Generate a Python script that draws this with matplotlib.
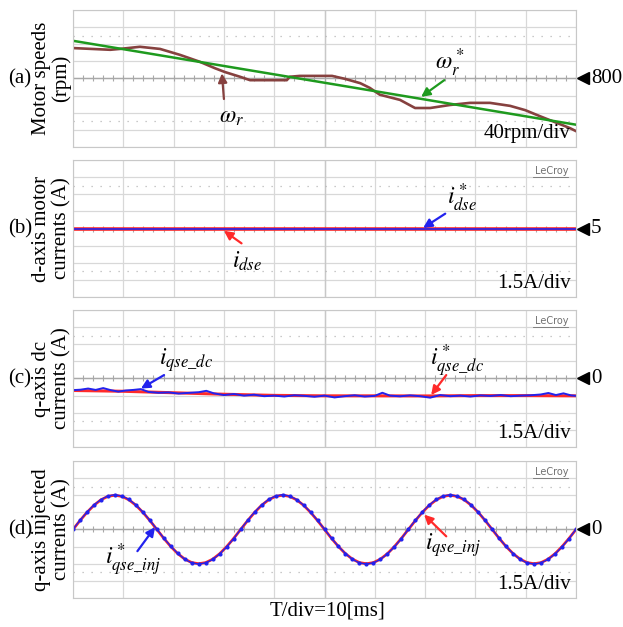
import numpy as np
import matplotlib.pyplot as plt

plt.rcParams['font.family'] = ['Liberation Serif', 'DejaVu Sans']
plt.rcParams['mathtext.fontset'] = 'stix'

# ---- (a) motor speed, rpm (time in ms, 10 ms/div) ----
t_speed = [0, 7.4, 9.3, 13.3, 17.3, 21.3, 25.2, 28.2, 30.2, 33.2, 35.2, 42.5, 43.1,
           45.1, 49.1, 51.5, 54.1, 57.1, 59.0, 61.0, 65.0, 68.0, 71.0, 74.9, 78.9,
           82.9, 86.9, 89.9, 92.8, 95.8, 98.8, 100]
w_r = [871, 867, 869, 874, 869, 855, 839, 824, 815, 804, 796, 796, 804,
       806, 806, 806, 799, 789, 778, 762, 750, 731, 731, 738, 743,
       743, 736, 726, 712, 698, 684, 677]
t_ref = [0, 100]
w_ref = [888, 692]

# ---- (b) d-axis current, A ----
t_d = [0, 100]
i_dse_ref = [5.0, 5.0]
i_dse = [4.95, 4.95]

# ---- (c) q-axis dc current, A ----
t_qdc = [0, 1.5, 3, 4.5, 6, 7.5, 9, 10.5, 12, 13.5, 15, 17, 19, 21, 23, 25, 26.5, 28,
         30, 32, 34, 36, 38, 40, 42, 44, 46, 48, 50, 52, 54, 56, 58, 60, 61.5, 63,
         65, 67, 69, 71, 73, 75, 77, 79, 81, 83, 85, 87, 89, 91, 93, 94.5, 96,
         97.5, 99, 100]
i_qdc = [-1.02, -0.98, -0.88, -1.00, -0.84, -1.02, -1.15, -1.05, -1.00, -0.93, -1.18,
         -1.25, -1.22, -1.32, -1.26, -1.20, -1.08, -1.30, -1.45, -1.36, -1.50, -1.42,
         -1.55, -1.50, -1.58, -1.47, -1.52, -1.60, -1.50, -1.66, -1.55, -1.47, -1.58,
         -1.52, -1.25, -1.50, -1.56, -1.48, -1.55, -1.68, -1.45, -1.55, -1.50, -1.58,
         -1.48, -1.53, -1.45, -1.55, -1.50, -1.47, -1.40, -1.27, -1.45, -1.30, -1.48,
         -1.52]
t_qdc_ref = [0, 10, 20, 30, 40, 50, 60, 70, 80, 90, 100]
i_qdc_ref = [-1.05, -1.12, -1.25, -1.38, -1.48, -1.52, -1.52, -1.53, -1.50, -1.50, -1.52]

# ---- (d) q-axis injected current, A (73 samples over 100 ms) ----
t_inj = np.linspace(0, 100, 73)
i_inj = [0.00, 0.78, 1.50, 2.12, 2.60, 2.90, 3.00, 2.90, 2.60, 2.12, 1.50, 0.78,
         0.00, -0.78, -1.50, -2.12, -2.60, -2.90, -3.00, -2.90, -2.60, -2.12, -1.50, -0.78,
         0.00, 0.78, 1.50, 2.12, 2.60, 2.90, 3.00, 2.90, 2.60, 2.12, 1.50, 0.78,
         0.00, -0.78, -1.50, -2.12, -2.60, -2.90, -3.00, -2.90, -2.60, -2.12, -1.50, -0.78,
         0.00, 0.78, 1.50, 2.12, 2.60, 2.90, 3.00, 2.90, 2.60, 2.12, 1.50, 0.78,
         0.00, -0.78, -1.50, -2.12, -2.60, -2.90, -3.00, -2.90, -2.60, -2.12, -1.50, -0.78,
         0.00]
i_inj_ref = [0.02, 0.80, 1.52, 2.15, 2.62, 2.94, 3.04, 2.93, 2.63, 2.15, 1.53, 0.80,
             0.03, -0.76, -1.48, -2.10, -2.62, -2.93, -3.03, -2.92, -2.62, -2.14, -1.52, -0.80,
             0.02, 0.80, 1.53, 2.15, 2.63, 2.94, 3.05, 2.93, 2.62, 2.14, 1.52, 0.80,
             0.02, -0.77, -1.49, -2.11, -2.62, -2.93, -3.03, -2.92, -2.62, -2.14, -1.52, -0.80,
             0.02, 0.80, 1.53, 2.15, 2.63, 2.94, 3.04, 2.93, 2.63, 2.14, 1.52, 0.80,
             0.02, -0.77, -1.49, -2.11, -2.62, -2.93, -3.03, -2.92, -2.62, -2.14, -1.52, -0.80,
             0.02]

fig = plt.figure(figsize=(6.23, 6.27), dpi=100)
FS = 15
MS = 17


def scope_axes(bottom, center, per_div):
    ax = fig.add_axes([0.1172, bottom, 0.8074, 0.2185])
    ax.set_xlim(0, 100)
    ax.set_ylim(center - 4 * per_div, center + 4 * per_div)
    ax.set_xticks(np.arange(0, 101, 10))
    ax.set_yticks(center + per_div * np.arange(-4, 5))
    ax.tick_params(length=0, labelbottom=False, labelleft=False)
    ax.grid(True, color='#d8d8d8', lw=0.9)
    for s in ax.spines.values():
        s.set_color('#c8c8c8')
    ax.axhline(center, color='#a8a8a8', lw=1.0)
    ax.axvline(50, color='#c8c8c8', lw=1.0)
    for k in (-2.5, 2.5):
        ax.axhline(center + k * per_div, color='#b8b8b8', lw=0.9, ls=(0, (1, 6.2)))
    ax.plot(np.arange(0, 101, 2), np.full(51, center), ls='none', marker='|',
            ms=4, color='#a8a8a8', mew=0.8)
    return ax


def lecroy(ax):
    ax.text(0.985, 0.92, 'LeCroy', transform=ax.transAxes, ha='right', va='center',
            fontsize=7, color='#707070', family='DejaVu Sans')
    ax.plot([0.915, 0.985], [0.875, 0.875], transform=ax.transAxes, color='#707070', lw=0.6)


def level(ax, s):
    # ground-level marker on the right edge
    ax.plot([1.013], [0.5], transform=ax.transAxes, marker='<', ms=9, color='black',
            clip_on=False)
    ax.text(1.030, 0.5, s, transform=ax.transAxes, ha='left', va='center', fontsize=FS)


def ylab(ax, tag, s):
    yc = ax.get_position().y0 + ax.get_position().height / 2
    fig.text(0.083, yc, s, rotation=90, ha='center', va='center',
             multialignment='center', fontsize=FS, linespacing=1.05)
    fig.text(0.032, yc, tag, ha='center', va='center', fontsize=FS)


def arrow(ax, tip, tail, c):
    ax.annotate('', xy=tip, xytext=tail,
                arrowprops=dict(arrowstyle='-|>', color=c, lw=1.6, mutation_scale=13,
                                shrinkA=0, shrinkB=0))


brown = '#86413f'
green = '#1e9a1e'
red = '#ff2a2a'
blue = '#2222ee'

# (a)
ax = scope_axes(0.7656, 800, 40)
ax.plot(t_speed, w_r, color=brown, lw=1.9)
ax.plot(t_ref, w_ref, color=green, lw=1.8)
arrow(ax, (29.6, 812), (30.0, 752), brown)
ax.text(31.6, 710, r'$\omega_r$', fontsize=MS, ha='center', va='center')
arrow(ax, (69.2, 757), (73.8, 796), green)
ax.text(74.8, 836, r'$\omega_r^*$', fontsize=MS, ha='center', va='center')
ax.text(0.99, 0.03, '40rpm/div', transform=ax.transAxes, ha='right', va='bottom', fontsize=FS)
level(ax, '800')
ylab(ax, '(a)', 'Motor speeds\n(rpm)')

# (b)
ax = scope_axes(0.5263, 5, 1.5)
ax.plot(t_d, i_dse, color=red, lw=2.6)
ax.plot(t_d, i_dse_ref, color=blue, lw=1.2)
arrow(ax, (69.6, 5.05), (74.0, 6.3), blue)
ax.text(77.3, 7.7, r'$i_{dse}^*$', fontsize=MS, ha='center', va='center')
arrow(ax, (30.0, 4.8), (33.5, 3.7), red)
ax.text(34.5, 2.1, r'$i_{dse}$', fontsize=MS, ha='center', va='center')
ax.text(0.99, 0.03, '1.5A/div', transform=ax.transAxes, ha='right', va='bottom', fontsize=FS)
lecroy(ax)
level(ax, '5')
ylab(ax, '(b)', 'd-axis motor\ncurrents (A)')

# (c)
ax = scope_axes(0.2871, 0, 1.5)
ax.plot(t_qdc_ref, i_qdc_ref, color=red, lw=2.2)
ax.plot(t_qdc, i_qdc, color=blue, lw=1.4)
arrow(ax, (13.5, -0.88), (18.1, 0.3), blue)
ax.text(22.5, 1.6, r'$i_{qse\_dc}$', fontsize=MS, ha='center', va='center')
arrow(ax, (71.2, -1.45), (74.2, 0.3), red)
ax.text(76.3, 1.6, r'$i_{qse\_dc}^*$', fontsize=MS, ha='center', va='center')
ax.text(0.99, 0.03, '1.5A/div', transform=ax.transAxes, ha='right', va='bottom', fontsize=FS)
lecroy(ax)
level(ax, '0')
ylab(ax, '(c)', 'q-axis dc\ncurrents (A)')

# (d)
ax = scope_axes(0.0463, 0, 1.5)
ax.plot(t_inj, i_inj, color=red, lw=2.0)
ax.plot(t_inj, i_inj_ref, color=blue, lw=1.0, marker='o', ms=2.0)
arrow(ax, (16.3, 0.2), (12.8, -1.9), blue)
ax.text(12.0, -2.6, r'$i_{qse\_inj}^*$', fontsize=MS, ha='center', va='center')
arrow(ax, (69.8, 1.3), (74.2, -0.6), red)
ax.text(75.5, -1.4, r'$i_{qse\_inj}$', fontsize=MS, ha='center', va='center')
ax.text(0.99, 0.03, '1.5A/div', transform=ax.transAxes, ha='right', va='bottom', fontsize=FS)
lecroy(ax)
level(ax, '0')
ylab(ax, '(d)', 'q-axis injected\ncurrents (A)')

fig.text(0.525, 0.026, 'T/div=10[ms]', ha='center', va='center', fontsize=FS)

fig.savefig('out.png', dpi=100)
